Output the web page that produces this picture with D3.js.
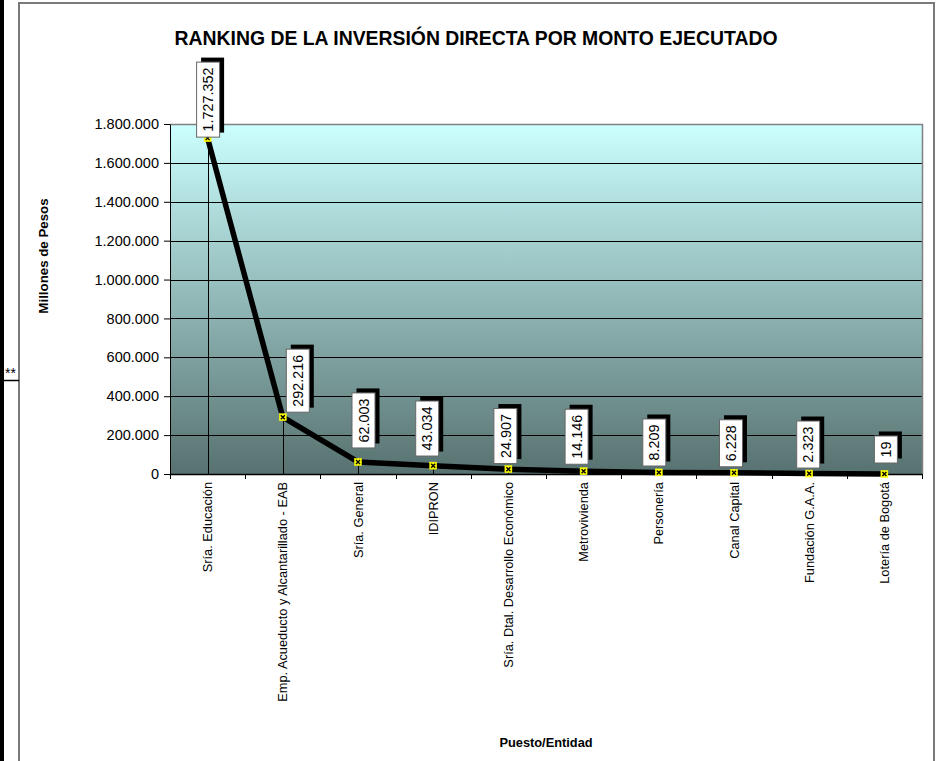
<!DOCTYPE html>
<html>
<head>
<meta charset="utf-8">
<script src="https://cdn.jsdelivr.net/npm/d3@7"></script>
<style>
  html, body { margin: 0; padding: 0; background: #ffffff; overflow: hidden; }
  svg { display: block; font-family: "Liberation Sans", Arial, sans-serif; }
  #bar { position: absolute; left: 0; top: 0; width: 4px; height: 761px; background: #000; z-index: 5; }
</style>
</head>
<body>
<div id="bar"></div>
<svg id="chart" width="940" height="761"></svg>
<script>
// ---- data ----
const categories = [
  "Sría. Educación",
  "Emp. Acueducto y Alcantarillado - EAB",
  "Sría. General",
  "IDIPRON",
  "Sría. Dtal. Desarrollo Económico",
  "Metrovivienda",
  "Personería",
  "Canal Capital",
  "Fundación G.A.A.",
  "Lotería de Bogotá"
];
const values = [1727352, 292216, 62003, 43034, 24907, 14146, 8209, 6228, 2323, 19];
const yTicks = [0, 200000, 400000, 600000, 800000, 1000000, 1200000, 1400000, 1600000, 1800000];
const titleText = "RANKING DE LA INVERSIÓN DIRECTA POR MONTO EJECUTADO";
const yTitle = "Millones de Pesos";
const xTitle = "Puesto/Entidad";

// ---- layout (manual label placement, as in the original) ----
const labelDx = [0.5, 15, 5.5, -6, -3, -7, -4.5, -3, -1, 1.5];
const labelGap = [1, 5, 14, 9.6, 5.6, 7, 6.4, 6, 5.5, 11];

const svg = d3.select("#chart");
const plot = { left: 170, right: 922, top: 124, bottom: 474 };

const locale = d3.formatLocale({ decimal: ",", thousands: ".", grouping: [3], currency: ["$", ""] });
const fmt = locale.format(",d");

const x = d3.scaleBand().domain(categories).range([plot.left, plot.right]).padding(0);
const y = d3.scaleLinear().domain([0, 1800000]).range([plot.bottom, plot.top]);
const cx = c => x(c) + x.bandwidth() / 2;

// outer chart border
svg.append("rect").attr("x", 19).attr("y", 3).attr("width", 915).attr("height", 800)
  .attr("fill", "#fff").attr("stroke", "#7a7a7a").attr("stroke-width", 2);

// gradient background of the plot area
const defs = svg.append("defs");
const grad = defs.append("linearGradient").attr("id", "bg").attr("x1", 0).attr("y1", 0).attr("x2", 0).attr("y2", 1);
grad.append("stop").attr("offset", "0%").attr("stop-color", "#ccffff");
grad.append("stop").attr("offset", "100%").attr("stop-color", "#577270");

svg.append("rect")
  .attr("x", plot.left).attr("y", plot.top)
  .attr("width", plot.right - plot.left).attr("height", plot.bottom - plot.top)
  .attr("fill", "url(#bg)");

// gridlines
svg.append("g").selectAll("line")
  .data(yTicks.filter(t => t > 0 && t < 1800000))
  .join("line")
  .attr("x1", plot.left).attr("x2", plot.right)
  .attr("y1", d => Math.round(y(d)) + 0.5).attr("y2", d => Math.round(y(d)) + 0.5)
  .attr("stroke", "#000").attr("stroke-width", 1);

// plot border top / right (grey)
svg.append("path")
  .attr("d", `M${plot.left},${plot.top + 0.5}H${plot.right + 0.5}V${plot.bottom}`)
  .attr("fill", "none").attr("stroke", "#808080").attr("stroke-width", 1.5);

// drop lines
svg.append("g").selectAll("line")
  .data(values)
  .join("line")
  .attr("x1", (d, i) => Math.round(cx(categories[i])) + 0.5)
  .attr("x2", (d, i) => Math.round(cx(categories[i])) + 0.5)
  .attr("y1", d => y(d)).attr("y2", plot.bottom)
  .attr("stroke", "#000").attr("stroke-width", 1);

// y axis
const yAxis = svg.append("g")
  .attr("transform", `translate(${plot.left},0)`)
  .call(d3.axisLeft(y).tickValues(yTicks).tickFormat(fmt).tickSize(6).tickSizeOuter(0).tickPadding(5));
yAxis.selectAll("text").attr("font-size", 14.5).attr("fill", "#000").attr("font-family", "Liberation Sans, Arial, sans-serif");
yAxis.selectAll("line").attr("stroke", "#000");
yAxis.select(".domain").attr("stroke", "#000");

// x axis
const xAxis = svg.append("g")
  .attr("transform", `translate(0,${plot.bottom})`)
  .call(d3.axisBottom(x).tickSize(0).tickSizeOuter(0));
xAxis.select(".domain").attr("stroke", "#000").attr("stroke-width", 1.5);
xAxis.selectAll("text")
  .attr("transform", "rotate(-90)")
  .attr("text-anchor", "end")
  .attr("x", -8).attr("y", 0).attr("dy", "0.36em")
  .attr("font-size", 12.8).attr("fill", "#000")
  .attr("font-family", "Liberation Sans, Arial, sans-serif");

// category boundary ticks
svg.append("g").selectAll("line")
  .data(categories.map(c => x(c)).concat([plot.right]))
  .join("line")
  .attr("x1", d => Math.round(d) + 0.5).attr("x2", d => Math.round(d) + 0.5)
  .attr("y1", plot.bottom).attr("y2", plot.bottom + 5)
  .attr("stroke", "#000").attr("stroke-width", 1);

// line series
const line = d3.line()
  .x((d, i) => cx(categories[i]))
  .y(d => y(d));
svg.append("path")
  .datum(values)
  .attr("d", line)
  .attr("fill", "none").attr("stroke", "#000")
  .attr("stroke-width", 5.5).attr("stroke-linejoin", "round");

// markers
const mk = svg.append("g").selectAll("g")
  .data(values)
  .join("g")
  .attr("transform", (d, i) => `translate(${cx(categories[i])},${y(d)})`);
mk.append("rect").attr("x", -3.5).attr("y", -3.5).attr("width", 7).attr("height", 7)
  .attr("fill", "#ffff00").attr("stroke", "#ffff00").attr("stroke-width", 0.5);
mk.append("path").attr("d", "M-2,-2L2,2M-2,2L2,-2")
  .attr("stroke", "#000").attr("stroke-width", 1.4);

// data labels
const lbl = svg.append("g").selectAll("g")
  .data(values)
  .join("g");
lbl.each(function (d, i) {
  const g = d3.select(this);
  const px = cx(categories[i]) + labelDx[i];
  const bottom = y(d) - labelGap[i];
  const t = g.append("text")
    .attr("font-size", 14.4).attr("fill", "#000")
    .attr("text-anchor", "middle")
    .text(fmt(d));
  const len = t.node().getComputedTextLength();
  const h = len + 11, w = 23;
  const top = bottom - h;
  g.insert("rect", "text")
    .attr("x", px - w / 2 + 4.5).attr("y", top - 4.5).attr("width", w).attr("height", h)
    .attr("fill", "#000");
  g.insert("rect", "text")
    .attr("x", px - w / 2).attr("y", top).attr("width", w).attr("height", h)
    .attr("fill", "#fff").attr("stroke", "#666").attr("stroke-width", 1);
  t.attr("transform", `translate(${px},${top + h / 2}) rotate(-90)`)
    .attr("dy", "0.36em");
});

// titles
svg.append("text")
  .attr("x", 476).attr("y", 45)
  .attr("text-anchor", "middle")
  .attr("font-size", 19.4).attr("font-weight", "bold").attr("fill", "#000")
  .text(titleText);

svg.append("text")
  .attr("transform", `translate(48,256) rotate(-90)`)
  .attr("text-anchor", "middle")
  .attr("font-size", 13.3).attr("font-weight", "bold").attr("fill", "#000")
  .text(yTitle);

svg.append("text")
  .attr("x", 546).attr("y", 747)
  .attr("text-anchor", "middle")
  .attr("font-size", 12.8).attr("font-weight", "bold").attr("fill", "#000")
  .text(xTitle);

// marks outside the chart border
svg.append("text").attr("x", 5).attr("y", 378).attr("font-size", 14).attr("fill", "#000").text("**");
svg.append("line").attr("x1", 4).attr("x2", 19).attr("y1", 380.5).attr("y2", 380.5)
  .attr("stroke", "#000").attr("stroke-width", 1.5);
</script>
</body>
</html>
